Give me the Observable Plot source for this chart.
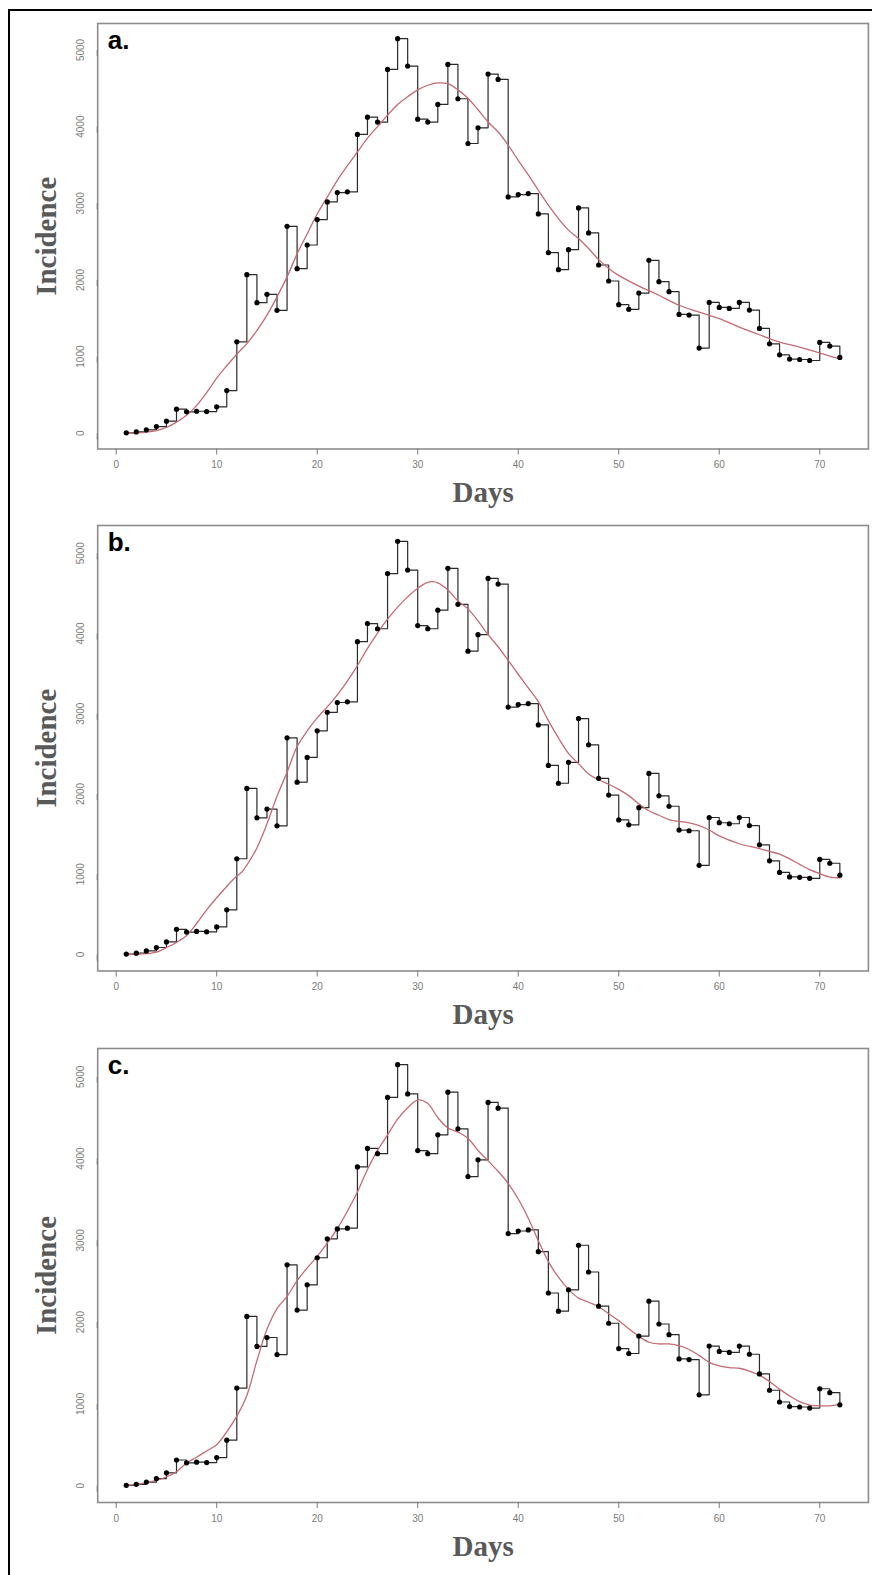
<!DOCTYPE html>
<html>
<head>
<meta charset="utf-8">
<script src="https://cdn.jsdelivr.net/npm/d3@7"></script>
<script src="https://cdn.jsdelivr.net/npm/@observablehq/plot@0.6"></script>
<style>
  html, body { margin: 0; padding: 0; background: #fff; }
  body { position: relative; width: 872px; height: 1575px; overflow: hidden; }
  #frame { position: absolute; left: 8px; top: 9px; width: 872px; height: 1575px; border: 2px solid #000; box-sizing: border-box; }
  .panel { position: absolute; left: 0; }
</style>
</head>
<body>
<div id="frame"></div>
<div id="pa" class="panel"></div>
<div id="pb" class="panel"></div>
<div id="pc" class="panel"></div>
<script>
// ---- data ----
const days = [1,2,3,4,5,6,7,8,9,10,11,12,13,14,15,16,17,18,19,20,21,22,23,24,25,26,27,28,29,30,31,32,33,34,35,36,37,38,39,40,41,42,43,44,45,46,47,48,49,50,51,52,53,54,55,56,57,58,59,60,61,62,63,64,65,66,67,68,69,70,71,72];
const incidence = [5,17,44,87,157,314,279,287,283,344,557,1193,2069,1703,1812,1603,2700,2147,2456,2787,3018,3140,3149,3898,4124,4059,4747,5148,4790,4098,4059,4290,4812,4364,3780,3985,4686,4616,3083,3114,3127,2861,2356,2134,2395,2940,2613,2195,1986,1677,1616,1829,2256,1977,1847,1550,1542,1111,1707,1642,1629,1707,1607,1367,1167,1023,967,962,949,1185,1137,989];

const fitDaysA = [1,2,3,4,5,6,7,8,9,10,11,12,13,14,15,16,17,18,19,20,21,22,23,24,25,26,27,28,29,30,31,32,33,34,35,36,37,38,39,40,41,42,43,44,45,46,47,48,49,50,52,54,56,58,60,62,64,66,68,70,72];
const fitA = [2,5,15,35,75,145,235,360,530,720,880,1030,1170,1340,1540,1780,2040,2340,2600,2860,3080,3300,3490,3670,3850,4000,4150,4290,4390,4480,4540,4570,4560,4480,4370,4220,4060,3930,3760,3560,3370,3170,2975,2800,2650,2540,2410,2265,2150,2060,1920,1800,1670,1580,1495,1385,1285,1190,1125,1045,971];

const fitDaysB = [1,2,3,4,5,6,7,8,9,10,11,12,12.5,13,14,15,16,17,18,19,20,21,22,23,24,25,26,27,28,29,30,31,31.5,32,33,34,35,36,37,38,39,40,41,42,43,44,45,46,47,48,49,50,51,52,53,54,55,56,57,58,59,60,62,64,65,66,67,68,69,70,71,72];
const fitB = [0,2,10,30,86,150,236,386,557,707,848,977,1028,1114,1328,1628,1971,2271,2592,2785,2948,3085,3235,3407,3599,3814,4006,4178,4328,4456,4564,4637,4645,4630,4542,4405,4307,4157,3985,3835,3664,3492,3321,3150,2914,2700,2507,2378,2250,2177,2121,2057,1980,1877,1791,1735,1680,1658,1641,1607,1551,1478,1380,1320,1285,1251,1191,1123,1058,1007,964,955];

const fitDaysC = [1,2,3,4,5,6,7,8,9,10,11,12,13,14,15,16,17,18,19,20,21,22,23,24,25,26,27,28,29,30,31,32,33,34,35,36,37,38,39,40,41,42,43,44,45,46,47,48,49,50,51,52,53,54,55,56,57,58,59,60,61,62,63,64,65,66,67,68,69,70,71,72];
const fitC = [5,15,34,64,106,170,276,348,425,501,658,850,1104,1529,1912,2166,2315,2506,2663,2804,2965,3143,3356,3590,3866,4099,4290,4482,4622,4715,4673,4500,4375,4324,4248,4099,3972,3844,3696,3505,3271,2995,2740,2549,2400,2294,2243,2188,2103,2018,1920,1827,1754,1733,1733,1712,1665,1593,1508,1466,1444,1436,1402,1351,1274,1181,1096,1028,986,977,977,994];

const xTicks = [0,10,20,30,40,50,60,70];
const yTicks = [0,1000,2000,3000,4000,5000];
const panelLabels = ["a.","b.","c."];
const xTitle = "Days";
const yTitle = "Incidence";

// ---- drawing ----
const obs = days.map((d, i) => ({day: d, value: incidence[i]}));

function panel(letter, fx, fy, boxTop, boxBottom) {
  const mt = 20, mb = 70;
  const fit = fx.map((d, i) => ({day: d, value: fy[i]}));
  const svg = Plot.plot({
    width: 872,
    height: mt + (boxBottom - boxTop) + mb,
    marginLeft: 97.2,
    marginRight: 4.1,
    marginTop: mt,
    marginBottom: mb,
    style: {background: "transparent", fontFamily: "'Liberation Sans', Arial, sans-serif"},
    x: {domain: [-1.84, 74.84]},
    y: {domain: [-205.6, 5345.6]},
    marks: [
      Plot.frame({stroke: "#8c8c8c", strokeWidth: 1.6}),
      Plot.axisX({ticks: xTicks, tickFormat: d => String(d), tickSize: 6, tickPadding: 6, fontSize: 10, color: "#7a7a7a", label: null}),
      Plot.axisY({ticks: yTicks, tickFormat: d => String(d), tickSize: 6, tickPadding: 11, fontSize: 10, color: "#7a7a7a", rotate: -90, textAnchor: "middle", label: null}),
      Plot.line(obs, {x: "day", y: "value", curve: "step-after", stroke: "#2a2a2a", strokeWidth: 1.2}),
      Plot.line(fit, {x: "day", y: "value", curve: "catmull-rom", stroke: "#c46a74", strokeWidth: 1.3}),
      Plot.dot(obs, {x: "day", y: "value", r: 2.6, fill: "#000", stroke: "none"}),
      Plot.text([letter], {frameAnchor: "top-left", dx: 10, dy: 17, text: d => d, fontSize: 26, fontWeight: "bold", fill: "#000", textAnchor: "start", lineAnchor: "middle", fontFamily: "'Liberation Sans', Arial, sans-serif"}),
      Plot.text([xTitle], {frameAnchor: "bottom", dy: 44, text: d => d, fontSize: 29, fontWeight: "bold", fill: "#595959", lineAnchor: "middle", fontFamily: "'Liberation Serif', 'Times New Roman', serif"}),
      Plot.text([yTitle], {frameAnchor: "left", dx: -51, rotate: -90, text: d => d, fontSize: 29, fontWeight: "bold", fill: "#595959", lineAnchor: "middle", textAnchor: "middle", fontFamily: "'Liberation Serif', 'Times New Roman', serif"})
    ]
  });
  return {svg, top: boxTop - mt};
}

const specs = [
  ["pa", panelLabels[0], fitDaysA, fitA, 23, 448.5],
  ["pb", panelLabels[1], fitDaysB, fitB, 525, 970.5],
  ["pc", panelLabels[2], fitDaysC, fitC, 1048, 1502]
];
for (const [id, lab, fx, fy, t, b] of specs) {
  const {svg, top} = panel(lab, fx, fy, t, b);
  const el = document.getElementById(id);
  el.style.top = top + "px";
  el.appendChild(svg);
}
</script>
</body>
</html>
